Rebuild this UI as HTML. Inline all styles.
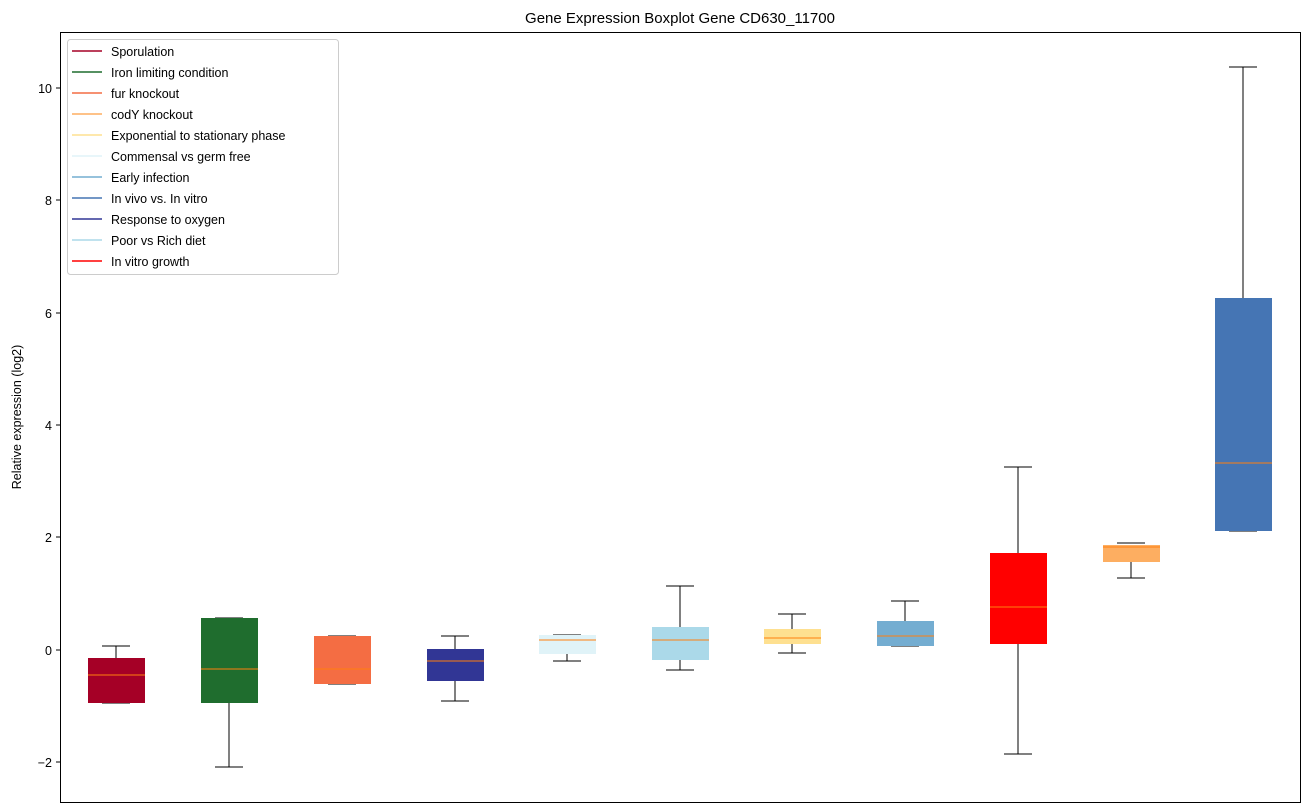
<!DOCTYPE html>
<html><head><style>body{margin:0;background:#fff}svg{display:block;font-family:"Liberation Sans","DejaVu Sans",sans-serif}</style></head>
<body>
<svg width="1309" height="812" xmlns="http://www.w3.org/2000/svg">
<rect width="1309" height="812" fill="#fff"/>
<text x="680" y="23" text-anchor="middle" font-size="15">Gene Expression Boxplot Gene CD630_11700</text>
<text transform="translate(21,417) rotate(-90)" text-anchor="middle" font-size="12.5">Relative expression (log2)</text>
<g font-size="12.5" text-anchor="end">
<line x1="56" x2="60" y1="88" y2="88" stroke="#000"/><text x="52" y="93">10</text>
<line x1="56" x2="60" y1="200" y2="200" stroke="#000"/><text x="52" y="205">8</text>
<line x1="56" x2="60" y1="313" y2="313" stroke="#000"/><text x="52" y="318">6</text>
<line x1="56" x2="60" y1="425" y2="425" stroke="#000"/><text x="52" y="430">4</text>
<line x1="56" x2="60" y1="537" y2="537" stroke="#000"/><text x="52" y="542">2</text>
<line x1="56" x2="60" y1="650" y2="650" stroke="#000"/><text x="52" y="655">0</text>
<line x1="56" x2="60" y1="762" y2="762" stroke="#000"/><text x="52" y="767">−2</text>
</g>
<g stroke="#000" stroke-width="1">
<!-- whiskers: x, top, q3, q1, bottom -->
<line x1="116" x2="116" y1="646" y2="658"/><line x1="102" x2="130" y1="646" y2="646"/><line x1="102" x2="130" y1="703" y2="703"/>
<line x1="229" x2="229" y1="703" y2="767"/><line x1="215" x2="243" y1="767" y2="767"/><line x1="215" x2="243" y1="618" y2="618"/>
<line x1="328" x2="356" y1="636" y2="636"/><line x1="328" x2="356" y1="684" y2="684"/>
<line x1="455" x2="455" y1="636" y2="649"/><line x1="455" x2="455" y1="681" y2="701"/><line x1="441" x2="469" y1="636" y2="636"/><line x1="441" x2="469" y1="701" y2="701"/>
<line x1="567" x2="567" y1="654" y2="661"/><line x1="553" x2="581" y1="661" y2="661"/><line x1="553" x2="581" y1="635" y2="635"/>
<line x1="680" x2="680" y1="586" y2="627"/><line x1="680" x2="680" y1="660" y2="670"/><line x1="666" x2="694" y1="586" y2="586"/><line x1="666" x2="694" y1="670" y2="670"/>
<line x1="792" x2="792" y1="614" y2="629"/><line x1="792" x2="792" y1="644" y2="653"/><line x1="778" x2="806" y1="614" y2="614"/><line x1="778" x2="806" y1="653" y2="653"/>
<line x1="905" x2="905" y1="601" y2="621"/><line x1="891" x2="919" y1="601" y2="601"/><line x1="891" x2="919" y1="646" y2="646"/>
<line x1="1018" x2="1018" y1="467" y2="553"/><line x1="1018" x2="1018" y1="644" y2="754"/><line x1="1004" x2="1032" y1="467" y2="467"/><line x1="1004" x2="1032" y1="754" y2="754"/>
<line x1="1131" x2="1131" y1="562" y2="578"/><line x1="1117" x2="1145" y1="543" y2="543"/><line x1="1117" x2="1145" y1="578" y2="578"/>
<line x1="1243" x2="1243" y1="67" y2="298"/><line x1="1229" x2="1257" y1="67" y2="67"/><line x1="1229" x2="1257" y1="531" y2="531"/>
</g>
<g>
<rect x="88" y="658" width="57" height="45" fill="#a50026"/>
<rect x="201" y="618" width="57" height="85" fill="#1f6d2e"/>
<rect x="314" y="636" width="57" height="48" fill="#f46d43"/>
<rect x="427" y="649" width="57" height="32" fill="#313695"/>
<rect x="539" y="635" width="57" height="19" fill="#e0f3f8"/>
<rect x="652" y="627" width="57" height="33" fill="#abd9e9"/>
<rect x="764" y="629" width="57" height="15" fill="#fee090"/>
<rect x="877" y="621" width="57" height="25" fill="#74add1"/>
<rect x="990" y="553" width="57" height="91" fill="#ff0000"/>
<rect x="1103" y="545" width="57" height="17" fill="#fdae61"/>
<rect x="1215" y="298" width="57" height="233" fill="#4575b4"/>
</g>
<g stroke="#ff7f0e" stroke-width="1">
<line x1="88" x2="145" y1="675" y2="675"/><line x1="201" x2="258" y1="669" y2="669"/><line x1="314" x2="371" y1="669" y2="669"/>
<line x1="427" x2="484" y1="661" y2="661"/><line x1="539" x2="596" y1="640" y2="640"/><line x1="652" x2="709" y1="640" y2="640"/>
<line x1="764" x2="821" y1="638" y2="638"/><line x1="877" x2="934" y1="636" y2="636"/><line x1="990" x2="1047" y1="607" y2="607"/>
<line x1="1103" x2="1160" y1="547" y2="547"/><line x1="1215" x2="1272" y1="463" y2="463"/>
</g>
<rect x="60.5" y="32.5" width="1240" height="770" fill="none" stroke="#000"/>
<rect x="67.5" y="39.5" width="271" height="235" fill="#fff" fill-opacity="0.8" stroke="#ccc" rx="3"/>
<g font-size="12.5" stroke-width="1.5">
<line x1="72" x2="102" y1="51" y2="51" stroke="#a50026"/><text x="111" y="56">Sporulation</text>
<line x1="72" x2="102" y1="72" y2="72" stroke="#1f6d2e"/><text x="111" y="77">Iron limiting condition</text>
<line x1="72" x2="102" y1="93" y2="93" stroke="#f46d43"/><text x="111" y="98">fur knockout</text>
<line x1="72" x2="102" y1="114" y2="114" stroke="#fdae61"/><text x="111" y="119">codY knockout</text>
<line x1="72" x2="102" y1="135" y2="135" stroke="#fee090"/><text x="111" y="140">Exponential to stationary phase</text>
<line x1="72" x2="102" y1="156" y2="156" stroke="#e0f3f8"/><text x="111" y="161">Commensal vs germ free</text>
<line x1="72" x2="102" y1="177" y2="177" stroke="#74add1"/><text x="111" y="182">Early infection</text>
<line x1="72" x2="102" y1="198" y2="198" stroke="#4575b4"/><text x="111" y="203">In vivo vs. In vitro</text>
<line x1="72" x2="102" y1="219" y2="219" stroke="#313695"/><text x="111" y="224">Response to oxygen</text>
<line x1="72" x2="102" y1="240" y2="240" stroke="#abd9e9"/><text x="111" y="245">Poor vs Rich diet</text>
<line x1="72" x2="102" y1="261" y2="261" stroke="#ff0000"/><text x="111" y="266">In vitro growth</text>
</g>
</svg>
</body></html>
